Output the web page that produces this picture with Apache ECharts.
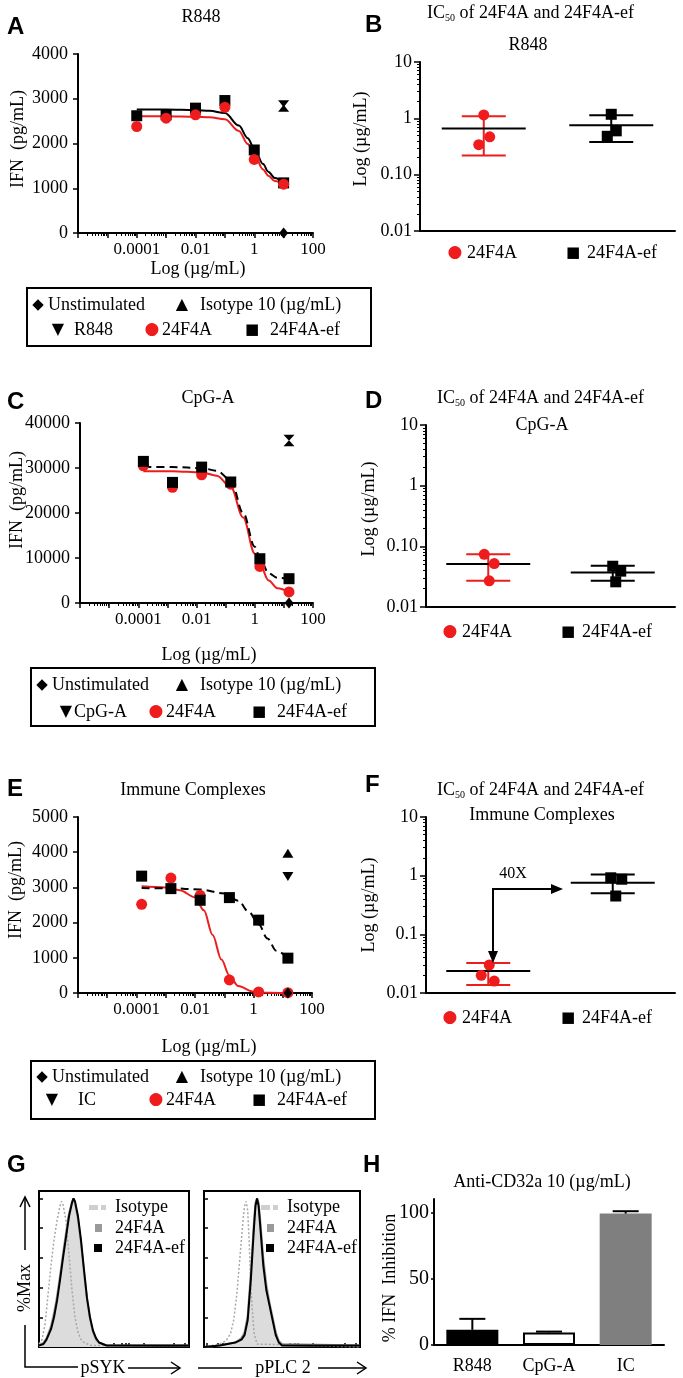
<!DOCTYPE html>
<html>
<head>
<meta charset="utf-8">
<script src="https://cdn.jsdelivr.net/npm/echarts@6/dist/echarts.min.js"></script>
<style>
html,body{margin:0;padding:0;background:#fff}
#main{width:683px;height:1378px}
</style>
</head>
<body>
<div id="main"></div>
<script>
// ---------- data ----------
// A: R848 dose response
var doseA = [0.0001, 0.001, 0.01, 0.1, 1, 10];
var a24F4A = [2380, 2565, 2640, 2810, 1645, 1090];
var a24F4Aef = [2620, 2640, 2790, 2960, 1855, 1120];
var aFitX = [0.0001, 0.001, 0.01, 0.03, 0.1, 0.3, 0.6, 1, 2, 3, 5, 10];
var aFit24F4A = [2610, 2610, 2600, 2585, 2540, 2280, 1990, 1760, 1420, 1280, 1160, 1090];
var aFit24F4Aef = [2760, 2760, 2750, 2730, 2680, 2400, 2120, 1890, 1540, 1370, 1230, 1120];
var aCtrl = {dose: 10, unstim: 0, isotype: 2790, stim: 2890};

// C: CpG-A dose response
var doseC = [0.00015, 0.0015, 0.015, 0.15, 1.5, 15];
var c24F4A = [30500, 25700, 28500, 26400, 8130, 2450];
var c24F4Aef = [31470, 26800, 30200, 26890, 9840, 5400];
var cFitX = [0.00015, 0.0015, 0.015, 0.05, 0.15, 0.4, 1, 1.5, 3, 6, 15];
var cFit24F4A = [29300, 29300, 29000, 28300, 25800, 19000, 11000, 8600, 5000, 3300, 2400];
var cFit24F4Aef = [30200, 30200, 30000, 29400, 27300, 20000, 12500, 10000, 6600, 5600, 5300];
var cCtrl = {dose: 15, unstim: 0, isotype: 35500, stim: 36700};

// E: immune complexes dose response
var doseE = [0.00015, 0.0015, 0.015, 0.15, 1.5, 15];
var e24F4A = [2520, 3265, 2775, 370, 30, 10];
var e24F4Aef = [3320, 2965, 2635, 2710, 2070, 990];
var eFitX24F4A = [0.00015, 0.001, 0.003, 0.01, 0.02, 0.04, 0.08, 0.15, 0.3, 1, 3, 15];
var eFit24F4A = [3030, 3000, 2920, 2720, 2350, 1650, 950, 500, 200, 40, 10, 0];
var eFitXef = [0.00015, 0.0015, 0.015, 0.1, 0.3, 0.7, 1.5, 3, 6, 15];
var eFit24F4Aef = [2980, 2975, 2940, 2830, 2620, 2300, 1950, 1550, 1200, 1000];
var eCtrl = {dose: 15, unstim: 0, isotype: 3970, stim: 3310};

var doseTickVals = [0.0001, 0.01, 1, 100];
var doseTickText = ['0.0001', '0.01', '1', '100'];

// B, D, F: IC50 (µg/mL)
var icGroups = ['24F4A', '24F4A-ef'];
var bPts24F4A = [1.15, 0.47, 0.34], bPtsEf = [1.18, 0.60, 0.48];
var bMean = [0.66, 0.75], bLow = [0.22, 0.38], bHigh = [1.09, 1.13];
var dPts24F4A = [0.074, 0.052, 0.027], dPtsEf = [0.047, 0.039, 0.026];
var dMean = [0.051, 0.037], dLow = [0.027, 0.027], dHigh = [0.074, 0.048];
var fPts24F4A = [0.030, 0.020, 0.016], fPtsEf = [0.92, 0.87, 0.45];
var fMean = [0.0237, 0.76], fLow = [0.0137, 0.50], fHigh = [0.0324, 1.05];
var icTickVals = [0.01, 0.1, 1, 10];
var icTickTextBD = ['0.01', '0.10', '1', '10'];
var icTickTextF = ['0.01', '0.1', '1', '10'];

// G: flow histograms (% of max)
var gSykX = [0, 3, 5, 8, 10, 12, 14, 16, 18, 20, 22, 23, 24, 26, 28, 30, 32, 34, 36, 38, 40, 45, 100];
var gSykEf = [1, 2, 5, 12, 20, 31, 45, 60, 74, 88, 97, 100, 98, 88, 72, 52, 33, 20, 11, 6, 3, 1, 1];
var gSyk24F4A = [1, 3, 6, 14, 23, 34, 48, 63, 77, 90, 98, 100, 97, 86, 70, 50, 32, 19, 10, 5, 3, 1, 1];
var gSykIsoX = [0, 2, 4, 6, 8, 10, 12, 14, 15, 16, 18, 20, 22, 24, 26, 28, 30, 35, 100];
var gSykIso = [2, 5, 15, 35, 55, 72, 85, 95, 98, 96, 85, 62, 38, 20, 10, 5, 3, 1, 1];
var gPlcX = [0, 10, 15, 20, 24, 26, 28, 30, 32, 33, 34, 35, 36, 38, 40, 42, 44, 46, 48, 50, 100];
var gPlcEf = [0, 1, 2, 3, 5, 8, 18, 45, 80, 95, 100, 95, 82, 55, 38, 28, 18, 8, 3, 1, 1];
var gPlc24F4A = [0, 1, 2, 3, 6, 10, 21, 50, 84, 97, 100, 97, 86, 60, 42, 30, 20, 10, 4, 2, 1];
var gPlcIsoX = [0, 10, 14, 17, 19, 21, 23, 25, 26, 27, 28, 29, 30, 32, 34, 100];
var gPlcIso = [0, 2, 4, 9, 18, 35, 60, 85, 95, 98, 92, 70, 40, 10, 2, 0];

// H: anti-CD32a inhibition
var hCats = ['R848', 'CpG-A', 'IC'];
var hMean = [11.4, 9.5, 99];
var hSd = [8.3, 0.6, 1.8];

// ---------- chart building ----------
var serif = '"Liberation Serif","Times New Roman",serif';
var sans = '"Liberation Sans",Arial,sans-serif';
var glyph = '"DejaVu Sans",sans-serif';
var RED = '#ee1c1c';

var chart = echarts.init(document.getElementById('main'));
var grids = [], xAxis = [], yAxis = [], series = [], graphic = [];

function pairs(xs, ys) {
    return xs.map(function (x, i) { return [x, ys[i]]; });
}
function tickLabel(vals, texts) {
    return function (v) {
        for (var i = 0; i < vals.length; i++) {
            if (Math.abs(Math.log10(v) - Math.log10(vals[i])) < 1e-6) return texts[i];
        }
        return '';
    };
}
function plain(v) { return String(v); }

function dosePanel(p) {
    var g = grids.length;
    grids.push({left: p.left, top: p.top, width: p.width, height: p.height});
    var xi = xAxis.length, yi = yAxis.length;
    xAxis.push({
        gridIndex: g, type: 'log', logBase: 10, min: 1e-6, max: 100,
        axisLine: {onZero: false, lineStyle: {color: '#000', width: 2}},
        axisTick: {length: 5, lineStyle: {color: '#000', width: 1.5}},
        minorTick: {show: true, splitNumber: 9, length: 3, lineStyle: {color: '#000', width: 1}},
        splitLine: {show: false},
        axisLabel: {color: '#000', fontFamily: serif, fontSize: 17, margin: 8,
            formatter: tickLabel(doseTickVals, doseTickText)}
    });
    yAxis.push({
        gridIndex: g, type: 'value', min: 0, max: p.ymax, interval: p.ystep,
        axisLine: {show: true, onZero: false, lineStyle: {color: '#000', width: 2}},
        axisTick: {show: true, length: 5, lineStyle: {color: '#000', width: 1.5}},
        splitLine: {show: false},
        axisLabel: {color: '#000', fontFamily: serif, fontSize: 18, margin: 10, formatter: plain}
    });
    var ax = {xAxisIndex: xi, yAxisIndex: yi, animation: false};
    function fit(xs, ys, color, dashed) {
        series.push(Object.assign({
            type: 'line', data: pairs(xs, ys), symbol: 'none', smooth: 0.35, smoothMonotone: 'x',
            lineStyle: {color: color, width: 2, type: dashed ? [8, 5] : 'solid'}, z: 2
        }, ax));
    }
    fit(p.fitRedX, p.fitRed, RED, false);
    fit(p.fitBlackX, p.fitBlack, '#000', p.dashed);
    var red = Object.assign({type: 'scatter', data: pairs(p.dose, p.red), symbol: 'circle',
        symbolSize: 11, itemStyle: {color: RED, opacity: 1}, clip: false, z: 3}, ax);
    var black = Object.assign({type: 'scatter', data: pairs(p.dose, p.black), symbol: 'rect',
        symbolSize: 11, itemStyle: {color: '#000', opacity: 1}, clip: false, z: 3}, ax);
    if (p.redOnTop) { series.push(black, red); } else { series.push(red, black); }
    var ctrlStyle = {color: '#000', opacity: 1};
    series.push(Object.assign({type: 'scatter', data: [[p.ctrl.dose, p.ctrl.unstim]], symbol: 'diamond',
        symbolSize: [9, 11], itemStyle: ctrlStyle, clip: false, z: 4}, ax));
    series.push(Object.assign({type: 'scatter', data: [[p.ctrl.dose, p.ctrl.isotype]], symbol: 'triangle',
        symbolSize: p.triSize, itemStyle: ctrlStyle, clip: false, z: 4}, ax));
    series.push(Object.assign({type: 'scatter', data: [[p.ctrl.dose, p.ctrl.stim]], symbol: 'triangle',
        symbolRotate: 180, symbolSize: p.triSize, itemStyle: ctrlStyle, clip: false, z: 4}, ax));
}

function meanSd(color, half, cap) {
    return function (params, api) {
        var xi = api.value(0);
        var m = api.coord([xi, api.value(1)]);
        var lo = api.coord([xi, api.value(2)]);
        var hi = api.coord([xi, api.value(3)]);
        var st = {stroke: color, lineWidth: 2};
        return {type: 'group', children: [
            {type: 'line', shape: {x1: m[0], y1: lo[1], x2: m[0], y2: hi[1]}, style: st},
            {type: 'line', shape: {x1: m[0] - cap, y1: lo[1], x2: m[0] + cap, y2: lo[1]}, style: st},
            {type: 'line', shape: {x1: m[0] - cap, y1: hi[1], x2: m[0] + cap, y2: hi[1]}, style: st},
            {type: 'line', shape: {x1: m[0] - half, y1: m[1], x2: m[0] + half, y2: m[1]},
                style: {stroke: '#000', lineWidth: 2}}
        ]};
    };
}

function icPanel(p) {
    var g = grids.length;
    grids.push({left: p.left, top: p.top, width: p.width, height: p.height});
    var xi = xAxis.length, yi = yAxis.length;
    xAxis.push({
        gridIndex: g, type: 'category', data: icGroups, boundaryGap: true,
        axisLine: {onZero: false, lineStyle: {color: '#000', width: 2}},
        axisTick: {show: false}, axisLabel: {show: false}
    });
    yAxis.push({
        gridIndex: g, type: 'log', logBase: 10, min: 0.01, max: 10,
        axisLine: {show: true, onZero: false, lineStyle: {color: '#000', width: 2}},
        axisTick: {show: true, length: 6, lineStyle: {color: '#000', width: 1.5}},
        minorTick: {show: true, splitNumber: 9, length: 3, lineStyle: {color: '#000', width: 1}},
        splitLine: {show: false},
        axisLabel: {color: '#000', fontFamily: serif, fontSize: 18, margin: 8,
            formatter: tickLabel(icTickVals, p.tickText)}
    });
    var ax = {xAxisIndex: xi, yAxisIndex: yi, animation: false};
    [RED, '#000'].forEach(function (c, k) {
        series.push(Object.assign({
            type: 'custom', renderItem: meanSd(c, 42, 22), encode: {x: 0, y: [1, 2, 3]},
            data: [[k, p.mean[k], p.low[k], p.high[k]]], z: 2, clip: false
        }, ax));
    });
    function pts(vals, k, jit) {
        return vals.map(function (v, i) { return {value: [k, v], symbolOffset: [jit[i], 0]}; });
    }
    series.push(Object.assign({type: 'scatter', symbol: 'circle', symbolSize: 11,
        itemStyle: {color: RED, opacity: 1}, data: pts(p.pts24F4A, 0, p.jit[0]), z: 3, clip: false}, ax));
    series.push(Object.assign({type: 'scatter', symbol: 'rect', symbolSize: 11,
        itemStyle: {color: '#000', opacity: 1}, data: pts(p.ptsEf, 1, p.jit[1]), z: 3, clip: false}, ax));
}

function histPanel(p) {
    var g = grids.length;
    grids.push({left: p.left, top: p.top, width: p.width, height: p.height,
        show: true, borderColor: '#000', borderWidth: 2, backgroundColor: 'transparent'});
    var xi = xAxis.length, yi = yAxis.length;
    xAxis.push({
        gridIndex: g, type: 'value', min: 0, max: 100,
        axisLine: {show: false, onZero: false},
        axisTick: {show: true, inside: true, length: 4, customValues: p.ticks,
            lineStyle: {color: '#000', width: 1.5}},
        axisLabel: {show: false}, splitLine: {show: false}
    });
    yAxis.push({
        gridIndex: g, type: 'value', min: 0, max: 105,
        axisLine: {show: false, onZero: false},
        axisTick: {show: true, inside: true, length: 4, customValues: [0, 20, 40, 60, 80, 100],
            lineStyle: {color: '#000', width: 1.5}},
        axisLabel: {show: false}, splitLine: {show: false}
    });
    var ax = {xAxisIndex: xi, yAxisIndex: yi, animation: false, symbol: 'none'};
    series.push(Object.assign({type: 'line', data: pairs(p.x, p.f4a),
        lineStyle: {color: '#a0a0a0', width: 2}, areaStyle: {color: '#dcdcdc', opacity: 1}, z: 2}, ax));
    series.push(Object.assign({type: 'line', data: pairs(p.isoX, p.iso),
        lineStyle: {color: '#a8a8a8', width: 1.5, type: [2, 2]}, z: 3}, ax));
    series.push(Object.assign({type: 'line', data: pairs(p.x, p.ef),
        lineStyle: {color: '#000', width: 2}, z: 4}, ax));
}

// panels
dosePanel({left: 78, top: 54, width: 235, height: 179, ymax: 4000, ystep: 1000,
    dose: doseA, red: a24F4A, black: a24F4Aef, fitRedX: aFitX, fitRed: aFit24F4A,
    fitBlackX: aFitX, fitBlack: aFit24F4Aef, dashed: false, redOnTop: true,
    ctrl: aCtrl, triSize: [11, 7]});
dosePanel({left: 80, top: 423, width: 233, height: 180, ymax: 40000, ystep: 10000,
    dose: doseC, red: c24F4A, black: c24F4Aef, fitRedX: cFitX, fitRed: cFit24F4A,
    fitBlackX: cFitX, fitBlack: cFit24F4Aef, dashed: true, redOnTop: false,
    ctrl: cCtrl, triSize: [11, 6]});
dosePanel({left: 78, top: 817, width: 234, height: 176, ymax: 5000, ystep: 1000,
    dose: doseE, red: e24F4A, black: e24F4Aef, fitRedX: eFitX24F4A, fitRed: eFit24F4A,
    fitBlackX: eFitXef, fitBlack: eFit24F4Aef, dashed: true, redOnTop: false,
    ctrl: eCtrl, triSize: [11, 9]});

icPanel({left: 420, top: 62, width: 255, height: 169, tickText: icTickTextBD,
    pts24F4A: bPts24F4A, ptsEf: bPtsEf, mean: bMean, low: bLow, high: bHigh,
    jit: [[0, 6, -5], [0, 5, -4]]});
icPanel({left: 426, top: 425, width: 249, height: 182, tickText: icTickTextBD,
    pts24F4A: dPts24F4A, ptsEf: dPtsEf, mean: dMean, low: dLow, high: dHigh,
    jit: [[-4, 6, 1], [0, 8, 3]]});
icPanel({left: 426, top: 817, width: 249, height: 176, tickText: icTickTextF,
    pts24F4A: fPts24F4A, ptsEf: fPtsEf, mean: fMean, low: fLow, high: fHigh,
    jit: [[1, -7, 6], [-2, 9, 3]]});

histPanel({left: 39, top: 1191, width: 150, height: 156, x: gSykX, ef: gSykEf, f4a: gSyk24F4A,
    isoX: gSykIsoX, iso: gSykIso, ticks: [2, 9, 12, 14, 15.5, 22, 40, 50, 55, 58, 60, 70, 90, 97]});
histPanel({left: 204, top: 1191, width: 156, height: 156, x: gPlcX, ef: gPlcEf, f4a: gPlc24F4A,
    isoX: gPlcIsoX, iso: gPlcIso, ticks: [2, 9, 12, 14, 15.5, 22, 40, 50, 55, 58, 60, 70, 90, 97]});

// H bar chart
(function () {
    var g = grids.length;
    grids.push({left: 434, top: 1199, width: 230, height: 146});
    var xi = xAxis.length, yi = yAxis.length;
    xAxis.push({gridIndex: g, type: 'category', data: hCats,
        axisLine: {lineStyle: {color: '#000', width: 2}}, axisTick: {show: false},
        axisLabel: {color: '#000', fontFamily: serif, fontSize: 18, margin: 12}});
    yAxis.push({gridIndex: g, type: 'value', min: 0, max: 110,
        axisLine: {show: true, lineStyle: {color: '#000', width: 2}},
        axisTick: {show: true, length: 3, customValues: [0, 50, 100], lineStyle: {color: '#000', width: 1.5}},
        splitLine: {show: false},
        axisLabel: {color: '#000', fontFamily: serif, fontSize: 20, margin: 5, customValues: [0, 50, 100]}});
    var barColors = ['#000', '#fff', '#7f7f7f'];
    series.push({type: 'bar', xAxisIndex: xi, yAxisIndex: yi, barWidth: 52, animation: false,
        data: hMean.map(function (v, i) {
            return {value: v, itemStyle: {color: barColors[i], borderColor: '#000', borderWidth: i === 1 ? 2 : 0}};
        })});
    series.push({type: 'custom', xAxisIndex: xi, yAxisIndex: yi, animation: false, encode: {x: 0, y: [1, 2]},
        data: hMean.map(function (v, i) { return [i, v, v + hSd[i]]; }),
        renderItem: function (params, api) {
            var a = api.coord([api.value(0), api.value(1)]);
            var b = api.coord([api.value(0), api.value(2)]);
            var st = {stroke: '#000', lineWidth: 2};
            return {type: 'group', children: [
                {type: 'line', shape: {x1: a[0], y1: a[1], x2: b[0], y2: b[1]}, style: st},
                {type: 'line', shape: {x1: b[0] - 13, y1: b[1], x2: b[0] + 13, y2: b[1]}, style: st}
            ]};
        }, z: 3});
})();

// ---------- texts and annotations ----------
function txt(x, y, s, o) {
    o = o || {};
    graphic.push({type: 'text', x: x, y: y, rotation: o.rot || 0, z: 50,
        style: {text: s, fontFamily: o.font || serif, fontSize: o.size || 18, fontWeight: o.weight || 'normal',
            fill: o.color || '#000', align: o.align || 'center', verticalAlign: 'middle'}});
}
function poly(pts, w) {
    graphic.push({type: 'polyline', shape: {points: pts}, style: {stroke: '#000', lineWidth: w || 2, fill: null}, z: 50});
}
function head(pts) {
    graphic.push({type: 'polygon', shape: {points: pts}, style: {fill: '#000'}, z: 50});
}
function box(x, y, w, h) {
    graphic.push({type: 'rect', shape: {x: x, y: y, width: w, height: h}, style: {fill: null, stroke: '#000', lineWidth: 2}, z: 50});
}
function icTitle(x, y) {
    txt(x, y, 'IC', {align: 'left'});
    txt(x + 18, y + 5, '50', {align: 'left', size: 10});
    txt(x + 28, y, ' of 24F4A and 24F4A-ef', {align: 'left'});
}
var R90 = Math.PI / 2;

// panel letters
[['A', 7, 27], ['B', 365, 25], ['C', 7, 402], ['D', 365, 401], ['E', 7, 789], ['F', 365, 785],
    ['G', 7, 1165], ['H', 363, 1165]].forEach(function (l) {
    txt(l[1], l[2], l[0], {font: sans, weight: 'bold', size: 24, align: 'left'});
});

// titles
txt(201, 17, 'R848');
icTitle(427, 13); txt(528, 45, 'R848');
txt(208, 398, 'CpG-A');
icTitle(437, 398); txt(542, 425, 'CpG-A');
txt(193, 790, 'Immune Complexes');
icTitle(437, 790); txt(542, 815, 'Immune Complexes');
txt(542, 1182, 'Anti-CD32a 10 (µg/mL)');

// axis names
txt(198, 269, 'Log (µg/mL)');
txt(209, 655, 'Log (µg/mL)');
txt(209, 1047, 'Log (µg/mL)');
txt(18, 139, 'IFN  (pg/mL)', {rot: R90});
txt(17, 500, 'IFN  (pg/mL)', {rot: R90});
txt(16, 890, 'IFN  (pg/mL)', {rot: R90});
txt(361, 139, 'Log (µg/mL)', {rot: R90});
txt(369, 509, 'Log (µg/mL)', {rot: R90});
txt(369, 905, 'Log (µg/mL)', {rot: R90});
txt(390, 1278, '% IFN  Inhibition', {rot: R90});

// dose-response legend boxes
function doseLegend(left, top, r1, r2, stimName, stimX, stimTextX, dotX, sqX) {
    box(left, top, 344, 58);
    txt(left + 11, r1, '◆', {font: glyph, size: 15});
    txt(left + 21, r1, 'Unstimulated', {align: 'left'});
    txt(182, r1, '▲', {font: glyph, size: 16});
    txt(200, r1, 'Isotype 10 (µg/mL)', {align: 'left'});
    txt(stimX, r2, '▼', {font: glyph, size: 16});
    txt(stimTextX, r2, stimName, {align: 'left'});
    txt(dotX, r2, '●', {font: glyph, size: 17, color: RED});
    txt(dotX + 10, r2, '24F4A', {align: 'left'});
    txt(sqX, r2, '■', {font: glyph, size: 15});
    txt(sqX + 18, r2, '24F4A-ef', {align: 'left'});
}
doseLegend(27, 288, 305, 330, 'R848', 58, 74, 152, 252);
doseLegend(31, 668, 685, 712, 'CpG-A', 66, 74, 156, 259);
doseLegend(31, 1061, 1077, 1100, 'IC', 52, 78, 156, 259);

// IC50 legends
[[455, 253], [450, 632], [450, 1018]].forEach(function (l) {
    txt(l[0], l[1], '●', {font: glyph, size: 17, color: RED});
    txt(l[0] + 12, l[1], '24F4A', {align: 'left'});
    txt(l[0] + 118, l[1], '■', {font: glyph, size: 15});
    txt(l[0] + 132, l[1], '24F4A-ef', {align: 'left'});
});

// F annotation: 40X arrows
txt(513, 874, '40X', {size: 16});
poly([[555, 889], [493, 889], [493, 954]], 2);
head([[563, 889], [551, 884], [551, 894]]);
head([[493, 963], [488, 951], [498, 951]]);

// G histogram legends and axis arrows
[[39, 115], [204, 287]].forEach(function (b) {
    var mx = b[1] - 20;
    graphic.push({type: 'rect', shape: {x: mx - 6, y: 1205, width: 9, height: 5}, style: {fill: '#cfcfcf'}, z: 50});
    graphic.push({type: 'rect', shape: {x: mx + 6, y: 1205, width: 5, height: 5}, style: {fill: '#cfcfcf'}, z: 50});
    graphic.push({type: 'rect', shape: {x: mx, y: 1224, width: 7, height: 8}, style: {fill: '#9a9a9a'}, z: 50});
    graphic.push({type: 'rect', shape: {x: mx - 1, y: 1244, width: 8, height: 8}, style: {fill: '#000'}, z: 50});
    txt(b[1], 1207, 'Isotype', {align: 'left'});
    txt(b[1], 1228, '24F4A', {align: 'left'});
    txt(b[1], 1248, '24F4A-ef', {align: 'left'});
});
txt(25, 1288, '%Max', {rot: R90});
poly([[25, 1325], [25, 1367], [78, 1367]], 1.5);
poly([[25, 1250], [25, 1198]], 1.5);
poly([[20, 1207], [25, 1197], [30, 1207]], 1.5);
txt(103, 1368, 'pSYK');
poly([[128, 1368], [180, 1368]], 1.5);
poly([[171, 1362], [180, 1368], [171, 1374]], 1.5);
poly([[198, 1368], [242, 1368]], 1.5);
txt(283, 1368, 'pPLC 2');
poly([[318, 1368], [366, 1368]], 1.5);
poly([[357, 1362], [366, 1368], [357, 1374]], 1.5);

chart.setOption({
    animation: false,
    backgroundColor: '#fff',
    grid: grids,
    xAxis: xAxis,
    yAxis: yAxis,
    series: series,
    graphic: {elements: graphic}
});
</script>
</body>
</html>
